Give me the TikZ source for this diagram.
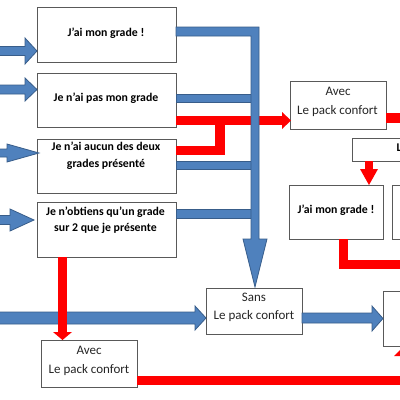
\documentclass[tikz,border=0pt]{standalone}
\usepackage{fontspec}
\setmainfont{Carlito}
\definecolor{blueF}{HTML}{4F81BD}
\definecolor{blueD}{HTML}{385D8A}
\definecolor{redF}{HTML}{FF0000}
\definecolor{boxL}{HTML}{595959}
\definecolor{txtR}{HTML}{262626}
\tikzset{
  box/.style={draw=boxL, line width=0.9pt, fill=white},
  bluearrow/.style={fill=blueF, draw=blueD, line width=0.8pt, line join=miter},
  redshape/.style={fill=redF, draw=none},
  tb/.style={font=\fontsize{11.8}{14}\selectfont\bfseries, text=black, inner sep=0pt, anchor=mid},
  tr/.style={font=\fontsize{13}{15}\selectfont, text=txtR, inner sep=0pt, anchor=mid},
}
\begin{document}
\begin{tikzpicture}[x=1pt,y=-1pt]
\useasboundingbox (0,0) rectangle (400,400);
\clip (0,0) rectangle (400,400);
\fill[white] (0,0) rectangle (400,400);

% boxes
\draw[box] (37,7) rectangle (176,62);
\draw[box] (37,73) rectangle (176,127);
\draw[box] (37,139) rectangle (176,193);
\draw[box] (37,202) rectangle (176,257);
\draw[box] (290,81) rectangle (386,129);
\draw[box] (352,138) rectangle (412,161);
\draw[box] (289,185) rectangle (383,239);
\draw[box] (392,185) rectangle (420,239);
\draw[box] (206,288) rectangle (302,334);
\draw[box] (383,291) rectangle (420,346);
\draw[box] (41,340) rectangle (137,387);

% texts
\node[tb] (t1) at (106,34) {J’ai mon grade !};
\node[tb] (t2) at (106,99) {Je n’ai pas mon grade};
\node[tb] (t3a) at (106,148) {Je n’ai aucun des deux};
\node[tb] (t3b) at (106,165) {grades présenté};
\node[tb] (t4a) at (105.5,213) {Je n’obtiens qu’un grade};
\node[tb] (t4b) at (105.5,229) {sur 2 que je présente};
\node[tr] (a1a) at (338,93) {Avec};
\node[tr] (a1b) at (337.5,112) {Le pack confort};
\node[tb] (t5) at (336,211) {J’ai mon grade !};
\node[tr] (s1a) at (254,299) {Sans};
\node[tr] (s1b) at (254,317) {Le pack confort};
\node[tr] (a2a) at (89,352) {Avec};
\node[tr] (a2b) at (89,371) {Le pack confort};
\node[tb, anchor=mid west] (tp) at (396.5,149) {L};

% left input arrows
\draw[bluearrow] (-5,46.5) -- (25,46.5) -- (25,38) -- (37,51) -- (25,64) -- (25,55.5) -- (-5,55.5) -- cycle;
\draw[bluearrow] (-5,85) -- (25,85) -- (25,78) -- (37,89.5) -- (25,101) -- (25,94) -- (-5,94) -- cycle;
\draw[bluearrow] (-5,149) -- (7,149) -- (7,144) -- (39,153) -- (7,162) -- (7,157) -- (-5,157) -- cycle;
\draw[bluearrow] (-5,215.5) -- (10,215.5) -- (10,209) -- (34,220) -- (10,231) -- (10,224.5) -- (-5,224.5) -- cycle;

% red connectors (under blue bar)
\fill[redshape] (176,116) rectangle (282,125);
\fill[redshape] (282,112) -- (291,120.5) -- (282,129) -- cycle;
\fill[redshape] (176,146) rectangle (225,155);
\fill[redshape] (215,116) rectangle (225,155);
\fill[redshape] (386,113) rectangle (405,123);
\fill[redshape] (365,161) rectangle (373,169.5);
\fill[redshape] (360,169) -- (369,185) -- (378,169) -- cycle;
\fill[redshape] (339,239) rectangle (348,269);
\fill[redshape] (339,260) rectangle (405,269);
\fill[redshape] (137,376) rectangle (405,385);
\fill[redshape] (394,356) -- (404,346) -- (414,356) -- cycle;

% blue connectors to collecting bar
\draw[bluearrow] (176,94) rectangle (252,102);
\draw[bluearrow] (176,161) rectangle (252,169);
\draw[bluearrow] (176,209.5) rectangle (252,218);
\draw[bluearrow] (176,27) -- (259,27) -- (259,239) -- (267,239) -- (255,287) -- (243,239) -- (251,239) -- (251,36) -- (176,36) -- cycle;

% long bottom arrow and sans -> right
\draw[bluearrow] (-5,312) -- (195,312) -- (195,306) -- (206,318) -- (195,330) -- (195,324) -- (-5,324) -- cycle;
\draw[bluearrow] (302,313) -- (372,313) -- (372,306) -- (383,318.5) -- (372,331) -- (372,323) -- (302,323) -- cycle;

% red from box 4 down (over blue)
\fill[redshape] (58,257) rectangle (67,332);
\fill[redshape] (53,332) -- (62.5,340) -- (72,332) -- cycle;
\end{tikzpicture}
\end{document}
